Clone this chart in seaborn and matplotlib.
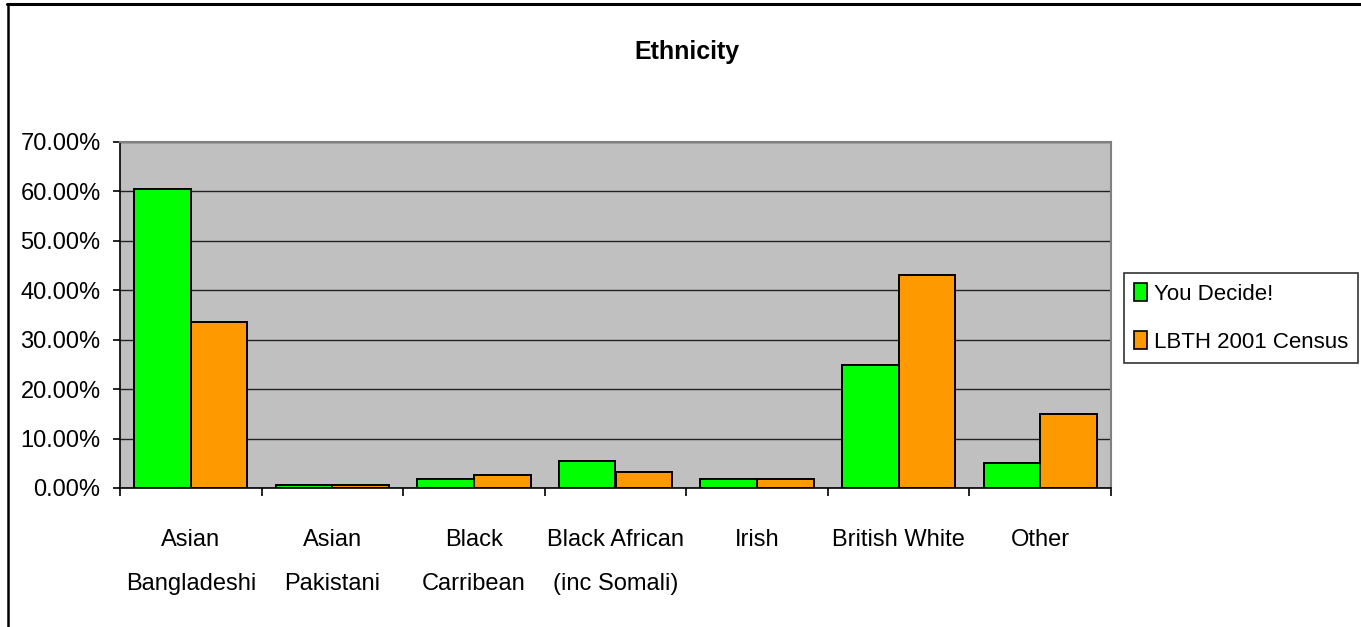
import matplotlib
matplotlib.use("Agg")
import matplotlib.pyplot as plt
from matplotlib.lines import Line2D
from matplotlib.patches import Patch
from matplotlib.ticker import FuncFormatter, MultipleLocator, FixedLocator
import numpy as np
import pandas as pd
import seaborn as sns

categories = ["Asian\nBangladeshi", "Asian\nPakistani", "Black\nCarribean",
              "Black African\n(inc Somali)", "Irish", "British White", "Other"]
you_decide = [60.5, 0.7, 1.8, 5.5, 1.8, 24.8, 5.1]
census_2001 = [33.5, 0.7, 2.6, 3.2, 1.8, 43.0, 14.9]
series_names = ["You Decide!", "LBTH 2001 Census"]
series_colors = ["#00FF00", "#FF9900"]

sns.set_theme(style="white")
plt.rcParams["font.family"] = ["Liberation Sans", "DejaVu Sans"]
plt.rcParams["text.color"] = "black"
plt.rcParams["xtick.color"] = "black"
plt.rcParams["ytick.color"] = "black"

df = pd.DataFrame({
    "category": categories * 2,
    "series": [series_names[0]] * len(categories) + [series_names[1]] * len(categories),
    "value": you_decide + census_2001,
})

W, H = 1361, 627
fig = plt.figure(figsize=(W / 100, H / 100), dpi=100)
ax = fig.add_axes([120 / W, (H - 488) / H, (1111 - 120) / W, (488 - 142) / H])
ax.set_facecolor("#C0C0C0")

sns.barplot(data=df, x="category", y="value", hue="series", order=categories,
            hue_order=series_names, palette=series_colors, saturation=1, width=0.8,
            edgecolor="black", linewidth=1.4, ax=ax, legend=False, zorder=3)

ax.set_ylim(0, 70)
ax.set_xlim(-0.5, len(categories) - 0.5)
ax.yaxis.set_major_locator(MultipleLocator(10))
ax.yaxis.set_major_formatter(FuncFormatter(lambda v, p: f"{v:.2f}%"))
ax.grid(axis="y", color="#222222", linewidth=1.0, zorder=1)
ax.grid(axis="x", visible=False)
ax.set_axisbelow(True)

ax.xaxis.set_minor_locator(FixedLocator(np.arange(-0.5, len(categories), 1.0)))
ax.tick_params(axis="x", which="major", length=0, pad=29.5, labelsize=17, labelcolor="black")
ax.tick_params(axis="x", which="minor", length=6, width=1.2, color="black", direction="out", bottom=True)
ax.tick_params(axis="y", which="major", length=5, width=1.2, color="black", direction="out", left=True,
               pad=9, labelsize=17, labelcolor="black")
for lbl in ax.get_xticklabels():
    lbl.set_linespacing(2.3)

ax.set_xlabel("")
ax.set_ylabel("")

for side in ["left", "bottom"]:
    ax.spines[side].set_color("black")
    ax.spines[side].set_linewidth(1.2)
for side in ["top", "right"]:
    ax.spines[side].set_color("#808080")
    ax.spines[side].set_linewidth(1.5)

fig.text(687 / W, 1 - 52 / H, "Ethnicity", ha="center", va="center", fontsize=18,
         fontweight="bold", color="black")

handles = [Patch(facecolor=c, edgecolor="black", linewidth=1.2) for c in series_colors]
leg = fig.legend(handles, series_names, loc="center left",
                 bbox_to_anchor=(1124 / W, 1 - 318 / H), fontsize=16,
                 frameon=True, fancybox=False, edgecolor="black",
                 handlelength=0.6, handleheight=0.85, handletextpad=0.3,
                 labelspacing=1.2, borderpad=0.45, borderaxespad=0)
leg.get_frame().set_linewidth(1.2)
for t in leg.get_texts():
    t.set_color("black")

# Chart-area frame lines
fig.add_artist(Line2D([7 / W, 1], [1 - 4 / H, 1 - 4 / H], color="black", linewidth=2.2,
                      transform=fig.transFigure))
fig.add_artist(Line2D([7.5 / W, 7.5 / W], [0, 1 - 4 / H], color="black", linewidth=1.8,
                      transform=fig.transFigure))

fig.savefig("out.png", dpi=100, facecolor="white")
